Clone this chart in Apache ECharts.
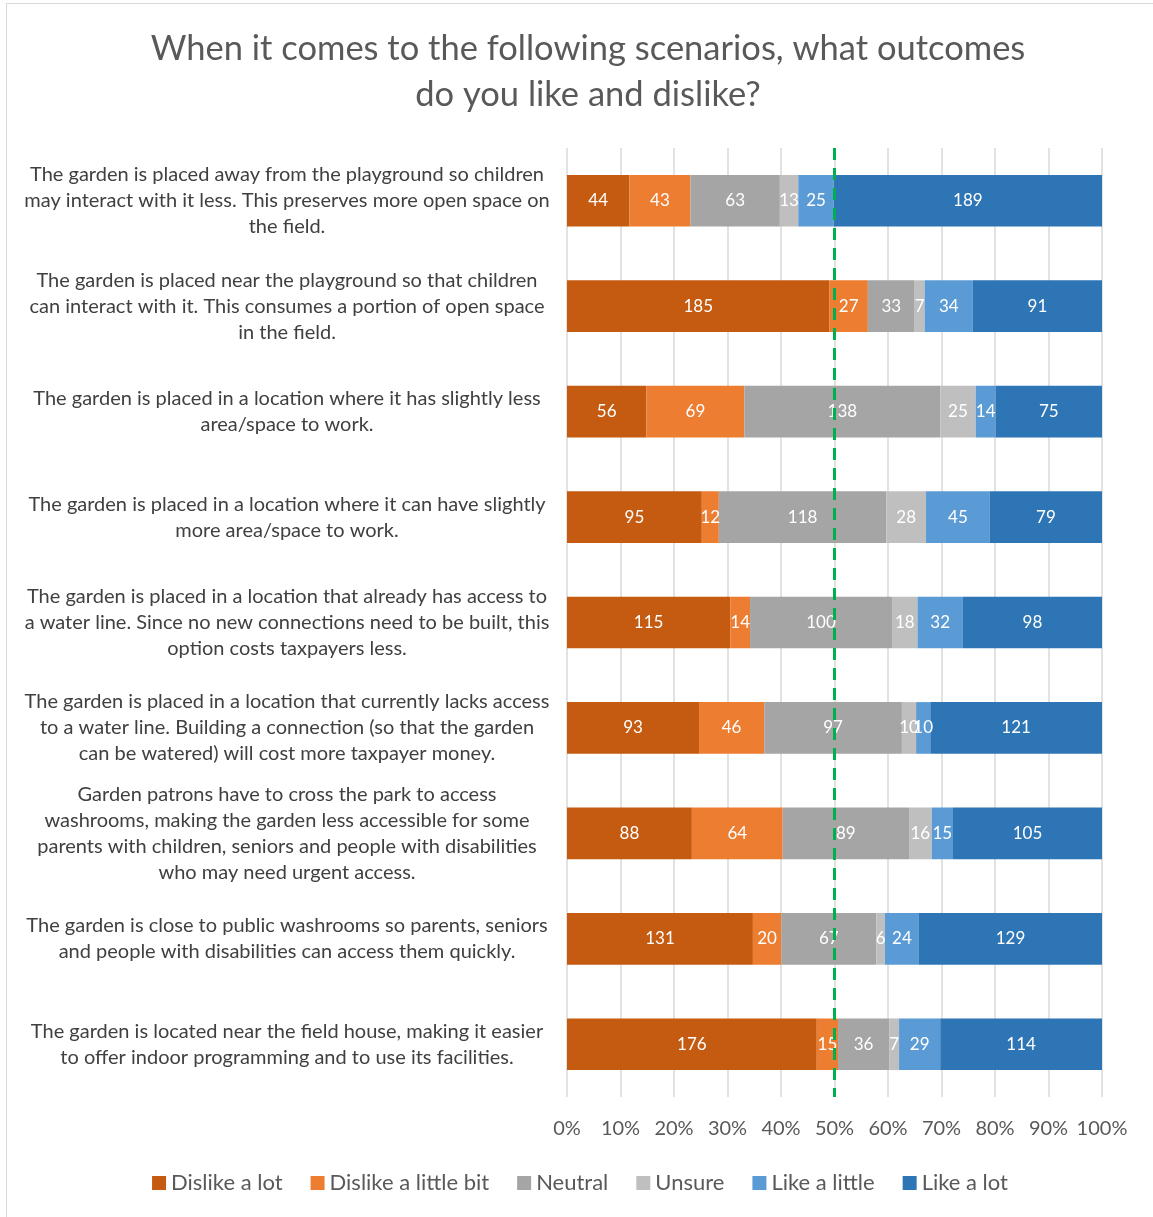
<!DOCTYPE html>
<html>
<head>
<meta charset="utf-8">
<script src="https://cdn.jsdelivr.net/npm/echarts@6/dist/echarts.min.js"></script>
<style>
    html, body { margin: 0; padding: 0; background: #fff; }
    #main { position: absolute; left: 6px; top: 3px; width: 1147px; height: 1214px; border-left: 1px solid #d9d9d9; border-top: 1px solid #d9d9d9; box-sizing: border-box; }
</style>
</head>
<body>
<div id="main"></div>
<script>
// 场景文字
var categories = [
    "The garden is placed away from the playground so children\nmay interact with it less. This preserves more open space on\nthe field.",
    "The garden is placed near the playground so that children\ncan interact with it. This consumes a portion of open space\nin the field.",
    "The garden is placed in a location where it has slightly less\narea/space to work.",
    "The garden is placed in a location where it can have slightly\nmore area/space to work.",
    "The garden is placed in a location that already has access to\na water line. Since no new connections need to be built, this\noption costs taxpayers less.",
    "The garden is placed in a location that currently lacks access\nto a water line. Building a connection (so that the garden\ncan be watered) will cost more taxpayer money.",
    "Garden patrons have to cross the park to access\nwashrooms, making the garden less accessible for some\nparents with children, seniors and people with disabilities\nwho may need urgent access.",
    "The garden is close to public washrooms so parents, seniors\nand people with disabilities can access them quickly.",
    "The garden is located near the field house, making it easier\nto offer indoor programming and to use its facilities."
];
var seriesNames = ["Dislike a lot", "Dislike a little bit", "Neutral", "Unsure", "Like a little", "Like a lot"];
var seriesColors = ["#C55A11", "#ED7D31", "#A5A5A5", "#BFBFBF", "#5B9BD5", "#2E75B6"];
// 各选项人数
var dislikeLot    = [44, 185, 56, 95, 115, 93, 88, 131, 176];
var dislikeLittle = [43, 27, 69, 12, 14, 46, 64, 20, 15];
var neutral       = [63, 33, 138, 118, 100, 97, 89, 67, 36];
var unsure        = [13, 7, 25, 28, 18, 10, 16, 6, 7];
var likeLittle    = [25, 34, 14, 45, 32, 10, 15, 24, 29];
var likeLot       = [189, 91, 75, 79, 98, 121, 105, 129, 114];
var xTicks = [0, 10, 20, 30, 40, 50, 60, 70, 80, 90, 100];

(function() {
    var myChart = echarts.init(document.querySelector("#main"));
    var raw = [dislikeLot, dislikeLittle, neutral, unsure, likeLittle, likeLot];
    var totals = categories.map(function(c, i) {
        var s = 0;
        raw.forEach(function(arr) { s += arr[i]; });
        return s;
    });
    var font = "Lato";
    var series = raw.map(function(arr, k) {
        var s = {
            name: seriesNames[k],
            type: "bar",
            stack: "total",
            barWidth: "49%",
            itemStyle: { color: seriesColors[k] },
            label: {
                show: true,
                color: "#fff",
                fontSize: 17,
                fontFamily: font,
                formatter: function(p) { return arr[p.dataIndex]; }
            },
            data: arr.map(function(v, i) { return v / totals[i] * 100; })
        };
        if (k === raw.length - 1) {
            s.markLine = {
                symbol: "none",
                silent: true,
                label: { show: false },
                lineStyle: { color: "#00B050", type: [12, 8], width: 3 },
                data: [{ xAxis: 50 }]
            };
        }
        return s;
    });
    var option = {
        animation: false,
        textStyle: { fontFamily: font },
        color: seriesColors,
        title: {
            text: "When it comes to the following scenarios, what outcomes\ndo you like and dislike?",
            left: 576,
            top: 17,
            textAlign: "center",
            textStyle: { fontFamily: font, fontSize: 34.5, fontWeight: "normal", color: "#595959", lineHeight: 46 }
        },
        legend: {
            bottom: 18,
            left: "center",
            itemWidth: 14,
            itemHeight: 14,
            itemGap: 28,
            icon: "rect",
            textStyle: { fontSize: 22, color: "#595959", fontFamily: font }
        },
        grid: { left: 560, right: 51, top: 144, bottom: 120 },
        xAxis: {
            type: "value",
            min: 0,
            max: 100,
            interval: 10,
            axisLine: { show: false },
            axisTick: { show: false },
            axisLabel: {
                color: "#595959",
                fontSize: 20,
                margin: 22,
                formatter: function(v) { return xTicks.indexOf(v) >= 0 ? v + "%" : ""; }
            },
            splitLine: { lineStyle: { color: "#d9d9d9", width: 1.5 } }
        },
        yAxis: {
            type: "category",
            inverse: true,
            data: categories,
            axisLine: { show: false },
            axisTick: { show: false },
            axisLabel: {
                color: "#404040",
                fontSize: 20,
                lineHeight: 26,
                align: "center",
                margin: 280
            }
        },
        series: series
    };
    myChart.setOption(option);
    window.addEventListener("resize", function() {
        myChart.resize();
    });
})();
</script>
</body>
</html>
